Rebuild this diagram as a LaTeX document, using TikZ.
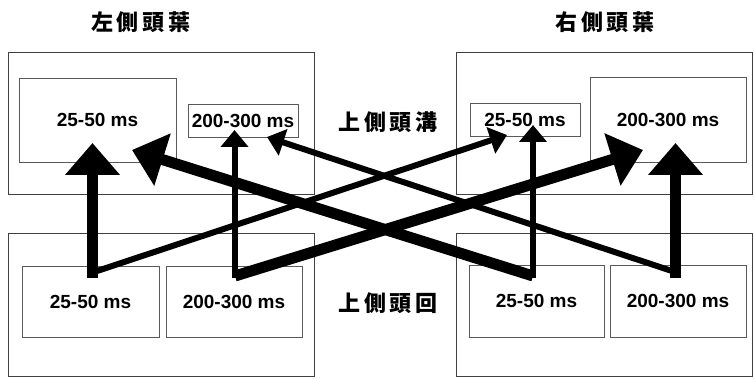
\documentclass[tikz,border=0pt]{standalone}
\usepackage{fontspec}
\usetikzlibrary{arrows.meta}
\newfontfamily\msfont{Liberation Sans}
\newfontfamily\cjkfont[LetterSpace=18]{Noto Sans CJK TC}
\tikzset{
  outerbox/.style={draw=black!75, line width=0.8pt},
  innerbox/.style={draw=black!65, line width=0.8pt, inner sep=0pt,
    font=\msfont\bfseries\fontsize{19}{22}\selectfont},
  cjklabel/.style={inner sep=0pt, font=\cjkfont\bfseries\fontsize{22}{26}\selectfont},
  thickarr/.style={line width=11pt, -{Triangle[length=32pt,width=53pt]}},
  thinarr/.style={line width=6pt, -{Triangle[length=17pt,width=27pt]}},
}
\begin{document}
\begin{tikzpicture}[x=1pt,y=-1pt]
\path[use as bounding box] (0,0) rectangle (754,379);
% titles
\node[cjklabel] (tl) at (141,22) {左側頭葉};
\node[cjklabel] (tr) at (605,22) {右側頭葉};
\node[cjklabel] (sts) at (388,122) {上側頭溝};
\node[cjklabel] (stg) at (388,303) {上側頭回};
% outer boxes
\node[outerbox, minimum width=306pt, minimum height=142pt] (TLo) at (161,123) {};
\node[outerbox, minimum width=296pt, minimum height=142pt] (TRo) at (604,123) {};
\node[outerbox, minimum width=306pt, minimum height=143pt] (BLo) at (161,304.5) {};
\node[outerbox, minimum width=296pt, minimum height=143pt] (BRo) at (604,304.5) {};
% inner boxes
\node[innerbox, minimum width=157pt, minimum height=84pt] (TL1) at (97.5,120) {25-50 ms};
\node[innerbox, minimum width=110pt, minimum height=33pt] (TL2) at (243,120.5) {200-300 ms};
\node[innerbox, minimum width=110pt, minimum height=33pt] (TR1) at (525,119.5) {25-50 ms};
\node[innerbox, minimum width=156pt, minimum height=85pt] (TR2) at (668,119.5) {200-300 ms};
\node[innerbox, minimum width=137pt, minimum height=71pt] (BL1) at (90.5,301.5) {25-50 ms};
\node[innerbox, minimum width=136pt, minimum height=71pt] (BL2) at (234,301.5) {200-300 ms};
\node[innerbox, minimum width=135pt, minimum height=72pt] (BR1) at (536.5,301) {25-50 ms};
\node[innerbox, minimum width=136pt, minimum height=72pt] (BR2) at (678,301) {200-300 ms};
% arrow end points
\coordinate (a1s) at (92.5,278);  \coordinate (a1t) at (92.5,143);
\coordinate (a2s) at (234.5,278); \coordinate (a2t) at (234.5,130);
\coordinate (a3s) at (533,278);   \coordinate (a3t) at (533,125);
\coordinate (a4s) at (675.5,278); \coordinate (a4t) at (675.5,143);
\coordinate (d1s) at (97,271);    \coordinate (d1t) at (507,135);
\coordinate (d2s) at (235,276);   \coordinate (d2t) at (643,150);
\coordinate (d3s) at (533,276);   \coordinate (d3t) at (132,150);
\coordinate (d4s) at (672,271);   \coordinate (d4t) at (267,137);
% arrows
\draw[thickarr] (a1s) -- (a1t);
\draw[thinarr] (a2s) -- (a2t);
\draw[thinarr] (a3s) -- (a3t);
\draw[thickarr] (a4s) -- (a4t);
\draw[thinarr] (d1s) -- (d1t);
\draw[thickarr] (d2s) -- (d2t);
\draw[thickarr] (d3s) -- (d3t);
\draw[thinarr] (d4s) -- (d4t);
\end{tikzpicture}
\end{document}
